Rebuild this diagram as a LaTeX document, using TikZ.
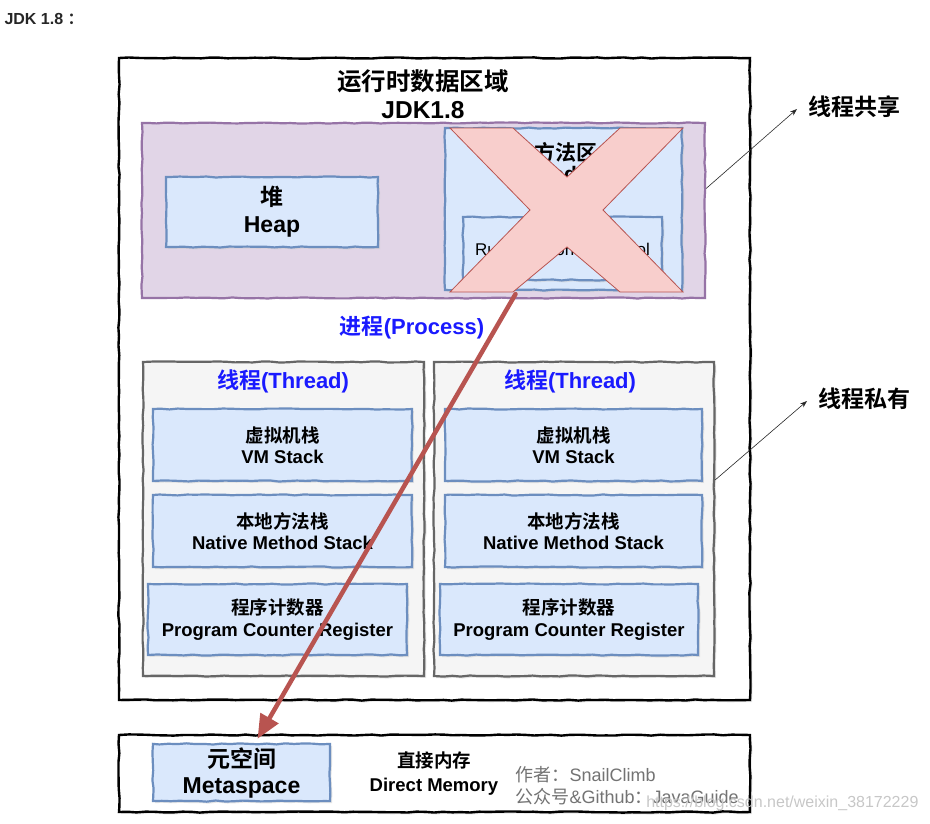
\documentclass[tikz,border=0pt]{standalone}
\usepackage{fontspec}
\setmainfont{Liberation Sans}
\newfontfamily\cjk{Noto Sans CJK SC}[BoldFont={Noto Sans CJK SC Bold}]
\usetikzlibrary{positioning,calc,arrows.meta,decorations.pathmorphing,shadows}

\definecolor{blueFill}{HTML}{DAE8FC}
\definecolor{blueLine}{HTML}{6C8EBF}
\definecolor{purpleFill}{HTML}{E1D5E7}
\definecolor{purpleLine}{HTML}{9673A6}
\definecolor{grayFill}{HTML}{F5F5F5}
\definecolor{grayLine}{HTML}{666666}
\definecolor{redFill}{HTML}{F8CECC}
\definecolor{redLine}{HTML}{B85450}
\definecolor{procBlue}{HTML}{1A1AFF}

\tikzset{
  sketch/.style={decorate, decoration={random steps, segment length=9pt, amplitude=0.6pt}},
  shade box/.style={drop shadow={shadow xshift=2pt, shadow yshift=-2pt, fill=black!20}},
  outerbox/.style={sketch, shade box, draw=black, line width=2.4pt, fill=white},
  sharedbox/.style={sketch, draw=purpleLine, line width=2.2pt, fill=purpleFill},
  threadbox/.style={sketch, shade box, draw=grayLine, line width=2.2pt, fill=grayFill},
  bluebox/.style={sketch, shade box, draw=blueLine, line width=2.2pt, fill=blueFill, align=center},
  stackbox/.style={bluebox, minimum height=72pt, font=\bfseries\fontsize{18.5}{21.5}\selectfont},
  xmark/.style={draw=redLine, line width=0.8pt, fill=redFill},
  note/.style={-{Stealth[length=7pt,width=5pt]}, line width=0.6pt, black!85},
  bigtitle/.style={font=\bfseries\fontsize{24.5}{28}\selectfont, align=center},
  sidetag/.style={font=\cjk\bfseries\fontsize{23}{24}\selectfont, anchor=west},
  threadtag/.style={font=\bfseries\fontsize{22}{24}\selectfont, text=procBlue},
}

\begin{document}
\begin{tikzpicture}[x=1pt, y=-1pt]
\useasboundingbox (0,0) rectangle (930,823);

\node[anchor=west, font=\bfseries\fontsize{16}{18}\selectfont, text=black!85] (jdk) at (1,19) {JDK 1.8 {\cjk ：}};

% runtime data area
\node[outerbox, minimum width=631pt, minimum height=642pt] (area) at (434.5,379) {};
\node[bigtitle] (title) at (423,94) {{\cjk 运行时数据区域}\\JDK1.8};

% shared between threads
\node[sharedbox, minimum width=563pt, minimum height=175pt] (shared) at (423.5,210.5) {};
\node[bluebox, minimum width=212pt, minimum height=70pt,
      font=\bfseries\fontsize{23}{27}\selectfont] (heap) at (272,212) {{\cjk 堆}\\Heap};
\node[bluebox, minimum width=237pt, minimum height=162pt] (method) at (563.5,209) {};
\node[font=\bfseries\fontsize{21}{21}\selectfont, align=center] (mtitle) at (566,162) {{\cjk 方法区}\\Method Area};
\node[bluebox, minimum width=199pt, minimum height=63pt,
      font=\fontsize{17}{19}\selectfont] (pool) at (562.5,248.5) {\\[-4pt]Runtime Constant Pool};

% removed in 1.8
\draw[xmark] (450,128) -- (513,128) -- (567,177) -- (620,128) -- (683,128) -- (603,210)
  -- (683,292) -- (620,292) -- (567,247) -- (513,292) -- (450,292) -- (530,210) -- cycle;

\node[threadtag] (proc) at (412,328) {{\cjk 进程}(Process)};

% per-thread parts
\node[threadbox, minimum width=281pt, minimum height=314pt] (threadA) at (283.5,519) {};
\node[threadbox, minimum width=280pt, minimum height=314pt] (threadB) at (574,519) {};
\node[threadtag] (tagA) at (283,381) {{\cjk 线程}(Thread)};
\node[threadtag] (tagB) at (570,381) {{\cjk 线程}(Thread)};

\node[stackbox, minimum width=259pt] (vmA) at (282.5,445) {{\cjk 虚拟机栈}\\VM Stack};
\node[stackbox, minimum width=259pt] (nativeA) at (282.5,531) {{\cjk 本地方法栈}\\Native Method Stack};
\node[stackbox, minimum width=259pt, minimum height=71pt] (pcA) at (277.5,619.5) {{\cjk 程序计数器}\\Program Counter Register};
\node[stackbox, minimum width=257pt] (vmB) at (573.5,445) {{\cjk 虚拟机栈}\\VM Stack};
\node[stackbox, minimum width=257pt] (nativeB) at (573.5,531) {{\cjk 本地方法栈}\\Native Method Stack};
\node[stackbox, minimum width=258pt, minimum height=71pt] (pcB) at (569,619.5) {{\cjk 程序计数器}\\Program Counter Register};

% side notes
\node[sidetag] (share) at (805,107) {线程共享};
\node[sidetag] (private) at (815,399) {线程私有};
\draw[note] ([yshift=22pt]shared.east) -- ([xshift=-8pt,yshift=-2pt]share.west);
\draw[note] ([yshift=39pt]threadB.east) -- ([xshift=-8pt,yshift=-2pt]private.west);

% outside the runtime area
\node[outerbox, minimum width=631pt, minimum height=77pt] (direct) at (434.5,773.5) {};
\node[bluebox, minimum width=177pt, minimum height=55pt,
      font=\bfseries\fontsize{23}{26}\selectfont] (meta) at (241.5,772.5) {{\cjk 元空间}\\Metaspace};
\node[font=\bfseries\fontsize{18.5}{24}\selectfont, align=center] (dmem) at (434,774) {{\cjk 直接内存}\\Direct Memory};
\node[font=\fontsize{18}{22}\selectfont, text=black!55, align=left, anchor=west] (author) at (512,786)
  {{\cjk 作者：}SnailClimb\\{\cjk 公众号}\&Github{\cjk ：}JavaGuide};
\node[font=\fontsize{16}{18}\selectfont, text=black!22, anchor=east] (mark) at (922,803) {https://blog.csdn.net/weixin\_38172229};

% permanent generation moved to metaspace
\draw[-{Triangle[length=24pt,width=20pt]}, line width=4.5pt, line cap=round, redLine]
  ([xshift=-48pt,yshift=-3pt]method.south) -- ([xshift=16pt,yshift=4pt]meta.north);
\end{tikzpicture}
\end{document}
